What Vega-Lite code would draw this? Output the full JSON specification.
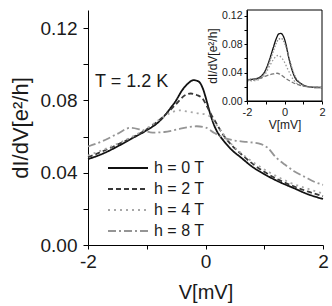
{
  "$schema": "https://vega.github.io/schema/vega-lite/v6.json",
  "autosize": "none",
  "width": 235,
  "height": 235,
  "padding": {"left": 88, "top": 10, "right": 9, "bottom": 61},
  "background": "white",
  "config": {
    "view": {"stroke": null},
    "font": "Liberation Sans",
    "axis": {"grid": false, "domainColor": "#000", "tickColor": "#000", "labelColor": "#1a1a1a", "titleColor": "#1a1a1a", "titleFontWeight": "normal", "labelFont": "Liberation Sans", "titleFont": "Liberation Sans"}
  },
  "datasets": {
    "main": [
      {"h": "h = 0 T", "V": -2.0, "G": 0.0475},
      {"h": "h = 0 T", "V": -1.75, "G": 0.0505},
      {"h": "h = 0 T", "V": -1.5, "G": 0.0545},
      {"h": "h = 0 T", "V": -1.25, "G": 0.059},
      {"h": "h = 0 T", "V": -1.0, "G": 0.0635},
      {"h": "h = 0 T", "V": -0.8, "G": 0.068},
      {"h": "h = 0 T", "V": -0.6, "G": 0.0755},
      {"h": "h = 0 T", "V": -0.5, "G": 0.0800},
      {"h": "h = 0 T", "V": -0.4, "G": 0.0855},
      {"h": "h = 0 T", "V": -0.3, "G": 0.0893},
      {"h": "h = 0 T", "V": -0.2, "G": 0.0912},
      {"h": "h = 0 T", "V": -0.12, "G": 0.0905},
      {"h": "h = 0 T", "V": -0.05, "G": 0.087},
      {"h": "h = 0 T", "V": 0.0, "G": 0.082},
      {"h": "h = 0 T", "V": 0.05, "G": 0.076},
      {"h": "h = 0 T", "V": 0.1, "G": 0.0705},
      {"h": "h = 0 T", "V": 0.15, "G": 0.066},
      {"h": "h = 0 T", "V": 0.22, "G": 0.0615},
      {"h": "h = 0 T", "V": 0.3, "G": 0.058},
      {"h": "h = 0 T", "V": 0.45, "G": 0.0525},
      {"h": "h = 0 T", "V": 0.6, "G": 0.0485},
      {"h": "h = 0 T", "V": 0.8, "G": 0.0432},
      {"h": "h = 0 T", "V": 1.0, "G": 0.0392},
      {"h": "h = 0 T", "V": 1.25, "G": 0.035},
      {"h": "h = 0 T", "V": 1.5, "G": 0.0315},
      {"h": "h = 0 T", "V": 1.75, "G": 0.028},
      {"h": "h = 0 T", "V": 2.0, "G": 0.0255},
      {"h": "h = 2 T", "V": -2.0, "G": 0.0485},
      {"h": "h = 2 T", "V": -1.5, "G": 0.0555},
      {"h": "h = 2 T", "V": -1.0, "G": 0.064},
      {"h": "h = 2 T", "V": -0.7, "G": 0.0715},
      {"h": "h = 2 T", "V": -0.5, "G": 0.078},
      {"h": "h = 2 T", "V": -0.35, "G": 0.0828},
      {"h": "h = 2 T", "V": -0.25, "G": 0.0838},
      {"h": "h = 2 T", "V": -0.15, "G": 0.083},
      {"h": "h = 2 T", "V": -0.05, "G": 0.081},
      {"h": "h = 2 T", "V": 0.02, "G": 0.077},
      {"h": "h = 2 T", "V": 0.1, "G": 0.072},
      {"h": "h = 2 T", "V": 0.19, "G": 0.067},
      {"h": "h = 2 T", "V": 0.3, "G": 0.061},
      {"h": "h = 2 T", "V": 0.45, "G": 0.055},
      {"h": "h = 2 T", "V": 0.6, "G": 0.0505},
      {"h": "h = 2 T", "V": 0.8, "G": 0.045},
      {"h": "h = 2 T", "V": 1.0, "G": 0.0405},
      {"h": "h = 2 T", "V": 1.25, "G": 0.036},
      {"h": "h = 2 T", "V": 1.5, "G": 0.0325},
      {"h": "h = 2 T", "V": 1.75, "G": 0.0295},
      {"h": "h = 2 T", "V": 2.0, "G": 0.027},
      {"h": "h = 4 T", "V": -2.0, "G": 0.0495},
      {"h": "h = 4 T", "V": -1.5, "G": 0.056},
      {"h": "h = 4 T", "V": -1.0, "G": 0.0645},
      {"h": "h = 4 T", "V": -0.8, "G": 0.069},
      {"h": "h = 4 T", "V": -0.6, "G": 0.073},
      {"h": "h = 4 T", "V": -0.45, "G": 0.0745},
      {"h": "h = 4 T", "V": -0.3, "G": 0.0738},
      {"h": "h = 4 T", "V": -0.15, "G": 0.073},
      {"h": "h = 4 T", "V": 0.0, "G": 0.0722},
      {"h": "h = 4 T", "V": 0.1, "G": 0.0705},
      {"h": "h = 4 T", "V": 0.2, "G": 0.066},
      {"h": "h = 4 T", "V": 0.3, "G": 0.0615},
      {"h": "h = 4 T", "V": 0.45, "G": 0.0555},
      {"h": "h = 4 T", "V": 0.6, "G": 0.051},
      {"h": "h = 4 T", "V": 0.87, "G": 0.0445},
      {"h": "h = 4 T", "V": 1.1, "G": 0.040},
      {"h": "h = 4 T", "V": 1.44, "G": 0.0345},
      {"h": "h = 4 T", "V": 1.75, "G": 0.031},
      {"h": "h = 4 T", "V": 2.0, "G": 0.0285},
      {"h": "h = 8 T", "V": -2.0, "G": 0.0545},
      {"h": "h = 8 T", "V": -1.75, "G": 0.0575},
      {"h": "h = 8 T", "V": -1.5, "G": 0.0615},
      {"h": "h = 8 T", "V": -1.28, "G": 0.0648},
      {"h": "h = 8 T", "V": -1.1, "G": 0.0638},
      {"h": "h = 8 T", "V": -0.9, "G": 0.0622},
      {"h": "h = 8 T", "V": -0.7, "G": 0.0625},
      {"h": "h = 8 T", "V": -0.5, "G": 0.0638},
      {"h": "h = 8 T", "V": -0.3, "G": 0.0652},
      {"h": "h = 8 T", "V": -0.15, "G": 0.0657},
      {"h": "h = 8 T", "V": 0.0, "G": 0.065},
      {"h": "h = 8 T", "V": 0.15, "G": 0.062},
      {"h": "h = 8 T", "V": 0.3, "G": 0.0595},
      {"h": "h = 8 T", "V": 0.5, "G": 0.0578},
      {"h": "h = 8 T", "V": 0.7, "G": 0.057},
      {"h": "h = 8 T", "V": 0.9, "G": 0.0562},
      {"h": "h = 8 T", "V": 1.05, "G": 0.054},
      {"h": "h = 8 T", "V": 1.2, "G": 0.0485},
      {"h": "h = 8 T", "V": 1.35, "G": 0.0445},
      {"h": "h = 8 T", "V": 1.5, "G": 0.041},
      {"h": "h = 8 T", "V": 1.7, "G": 0.0375},
      {"h": "h = 8 T", "V": 1.85, "G": 0.035},
      {"h": "h = 8 T", "V": 2.0, "G": 0.0333}
    ],
    "inset": [
      {"h": "h = 0 T", "V": -2.0, "G": 0.030},
      {"h": "h = 0 T", "V": -1.5, "G": 0.0315},
      {"h": "h = 0 T", "V": -1.2, "G": 0.036},
      {"h": "h = 0 T", "V": -1.0, "G": 0.044},
      {"h": "h = 0 T", "V": -0.8, "G": 0.058},
      {"h": "h = 0 T", "V": -0.6, "G": 0.075},
      {"h": "h = 0 T", "V": -0.45, "G": 0.087},
      {"h": "h = 0 T", "V": -0.3, "G": 0.0945},
      {"h": "h = 0 T", "V": -0.2, "G": 0.095},
      {"h": "h = 0 T", "V": -0.1, "G": 0.093},
      {"h": "h = 0 T", "V": 0.0, "G": 0.087},
      {"h": "h = 0 T", "V": 0.1, "G": 0.077},
      {"h": "h = 0 T", "V": 0.2, "G": 0.064},
      {"h": "h = 0 T", "V": 0.3, "G": 0.053},
      {"h": "h = 0 T", "V": 0.45, "G": 0.040},
      {"h": "h = 0 T", "V": 0.6, "G": 0.031},
      {"h": "h = 0 T", "V": 0.8, "G": 0.026},
      {"h": "h = 0 T", "V": 1.0, "G": 0.0225},
      {"h": "h = 0 T", "V": 1.3, "G": 0.020},
      {"h": "h = 0 T", "V": 1.6, "G": 0.019},
      {"h": "h = 0 T", "V": 2.0, "G": 0.019},
      {"h": "h = 2 T", "V": -2.0, "G": 0.029},
      {"h": "h = 2 T", "V": -1.5, "G": 0.030},
      {"h": "h = 2 T", "V": -1.2, "G": 0.035},
      {"h": "h = 2 T", "V": -1.0, "G": 0.042},
      {"h": "h = 2 T", "V": -0.8, "G": 0.055},
      {"h": "h = 2 T", "V": -0.6, "G": 0.070},
      {"h": "h = 2 T", "V": -0.45, "G": 0.081},
      {"h": "h = 2 T", "V": -0.3, "G": 0.087},
      {"h": "h = 2 T", "V": -0.2, "G": 0.088},
      {"h": "h = 2 T", "V": -0.1, "G": 0.087},
      {"h": "h = 2 T", "V": 0.0, "G": 0.082},
      {"h": "h = 2 T", "V": 0.1, "G": 0.075},
      {"h": "h = 2 T", "V": 0.2, "G": 0.065},
      {"h": "h = 2 T", "V": 0.3, "G": 0.055},
      {"h": "h = 2 T", "V": 0.45, "G": 0.042},
      {"h": "h = 2 T", "V": 0.6, "G": 0.033},
      {"h": "h = 2 T", "V": 0.8, "G": 0.026},
      {"h": "h = 2 T", "V": 1.0, "G": 0.022},
      {"h": "h = 2 T", "V": 1.3, "G": 0.020},
      {"h": "h = 2 T", "V": 2.0, "G": 0.019},
      {"h": "h = 4 T", "V": -2.0, "G": 0.028},
      {"h": "h = 4 T", "V": -1.5, "G": 0.029},
      {"h": "h = 4 T", "V": -1.2, "G": 0.033},
      {"h": "h = 4 T", "V": -1.0, "G": 0.039},
      {"h": "h = 4 T", "V": -0.8, "G": 0.049},
      {"h": "h = 4 T", "V": -0.6, "G": 0.058},
      {"h": "h = 4 T", "V": -0.45, "G": 0.063},
      {"h": "h = 4 T", "V": -0.35, "G": 0.064},
      {"h": "h = 4 T", "V": -0.2, "G": 0.062},
      {"h": "h = 4 T", "V": -0.05, "G": 0.057},
      {"h": "h = 4 T", "V": 0.1, "G": 0.049},
      {"h": "h = 4 T", "V": 0.3, "G": 0.038},
      {"h": "h = 4 T", "V": 0.5, "G": 0.029},
      {"h": "h = 4 T", "V": 0.7, "G": 0.024},
      {"h": "h = 4 T", "V": 1.0, "G": 0.021},
      {"h": "h = 4 T", "V": 1.4, "G": 0.020},
      {"h": "h = 4 T", "V": 2.0, "G": 0.019},
      {"h": "h = 8 T", "V": -2.0, "G": 0.030},
      {"h": "h = 8 T", "V": -1.5, "G": 0.031},
      {"h": "h = 8 T", "V": -1.2, "G": 0.033},
      {"h": "h = 8 T", "V": -0.9, "G": 0.036},
      {"h": "h = 8 T", "V": -0.6, "G": 0.038},
      {"h": "h = 8 T", "V": -0.4, "G": 0.039},
      {"h": "h = 8 T", "V": -0.2, "G": 0.037},
      {"h": "h = 8 T", "V": 0.0, "G": 0.033},
      {"h": "h = 8 T", "V": 0.3, "G": 0.028},
      {"h": "h = 8 T", "V": 0.6, "G": 0.024},
      {"h": "h = 8 T", "V": 1.0, "G": 0.021},
      {"h": "h = 8 T", "V": 1.4, "G": 0.020},
      {"h": "h = 8 T", "V": 2.0, "G": 0.019}
    ]
  },
  "layer": [
    {
      "data": {"name": "main"},
      "mark": {"type": "line", "strokeWidth": 1.8, "interpolate": "monotone"},
      "encoding": {
        "x": {"field": "V", "type": "quantitative", "scale": {"domain": [-2, 2], "nice": false, "zero": false},
          "axis": {"values": [-2, -1, 0, 1, 2], "labelExpr": "datum.value == -2 ? '-2' : datum.value == 0 ? '0' : datum.value == 2 ? '2' : ''", "labelFontSize": 19, "tickSize": 4, "labelPadding": 3, "labelFlush": false, "title": "V[mV]", "titleFontSize": 20, "titlePadding": 11}},
        "y": {"field": "G", "type": "quantitative", "scale": {"domain": [0, 0.13], "nice": false},
          "axis": {"values": [0, 0.02, 0.04, 0.06, 0.08, 0.1, 0.12], "format": ".2f", "labelExpr": "indexof(['0.00','0.04','0.08','0.12'], datum.label) >= 0 ? datum.label : ''", "labelFontSize": 19, "tickSize": 5, "labelPadding": 6, "title": "dI/dV[e²/h]", "titleFontSize": 22, "titlePadding": 8}},
        "color": {"field": "h", "type": "nominal", "title": null,
          "scale": {"domain": ["h = 0 T", "h = 2 T", "h = 4 T", "h = 8 T"], "range": ["#111111", "#383838", "#a8a8a8", "#959595"]},
          "legend": {"orient": "none", "legendX": 32, "legendY": 150, "symbolType": "M-4,0H4", "symbolSize": 100, "symbolStrokeWidth": 1.8, "labelFontSize": 16, "labelOffset": 18, "rowPadding": 5, "labelColor": "#1a1a1a", "labelFont": "Liberation Sans"}},
        "strokeDash": {"field": "h", "type": "nominal", "title": null,
          "scale": {"domain": ["h = 0 T", "h = 2 T", "h = 4 T", "h = 8 T"], "range": [[1, 0], [5, 3], [2, 4], [8, 3, 2, 3]]},
          "legend": {"orient": "none", "legendX": 32, "legendY": 150, "symbolType": "M-4,0H4", "symbolSize": 100, "symbolStrokeWidth": 1.8, "labelFontSize": 16, "labelOffset": 18, "rowPadding": 5, "labelColor": "#1a1a1a", "labelFont": "Liberation Sans"}}
      }
    },
    {
      "data": {"values": [{"label": "T = 1.2 K"}]},
      "mark": {"type": "text", "align": "left", "baseline": "alphabetic", "fontSize": 18, "font": "Liberation Sans", "color": "#1a1a1a"},
      "encoding": {
        "x": {"datum": -1.88, "type": "quantitative", "scale": {"domain": [-2, 2], "nice": false, "zero": false}, "axis": null},
        "y": {"datum": 0.0873, "type": "quantitative", "scale": {"domain": [0, 0.13], "nice": false}, "axis": null},
        "text": {"field": "label"}
      }
    },
    {
      "data": {"values": [{}]},
      "mark": {"type": "rect", "fill": "white", "stroke": "#000", "strokeWidth": 1},
      "encoding": {
        "x": {"datum": -2, "type": "quantitative", "scale": {"domain": [-2, 2], "range": [159, 234], "nice": false, "zero": false}, "axis": null},
        "x2": {"datum": 2},
        "y": {"datum": 0, "type": "quantitative", "scale": {"domain": [0, 0.128], "range": [91, 0], "nice": false}, "axis": null},
        "y2": {"datum": 0.128}
      }
    },
    {
      "data": {"name": "inset"},
      "mark": {"type": "line", "strokeWidth": 1.3, "interpolate": "monotone"},
      "encoding": {
        "x": {"field": "V", "type": "quantitative", "scale": {"domain": [-2, 2], "range": [159, 234], "nice": false, "zero": false},
          "axis": {"orient": "bottom", "offset": -144, "zindex": 1, "values": [-2, -1, 0, 1, 2], "labelExpr": "datum.value == -2 ? '-2' : datum.value == 0 ? '0' : datum.value == 2 ? '2' : ''", "labelFontSize": 11, "tickSize": 3, "labelPadding": 2, "labelFlush": false, "title": "V[mV]", "titleFontSize": 12, "titlePadding": 2}},
        "y": {"field": "G", "type": "quantitative", "scale": {"domain": [0, 0.128], "range": [91, 0], "nice": false},
          "axis": {"orient": "left", "offset": -159, "zindex": 1, "values": [0, 0.02, 0.04, 0.06, 0.08, 0.1, 0.12], "format": ".2f", "labelExpr": "indexof(['0.00','0.04','0.08','0.12'], datum.label) >= 0 ? datum.label : ''", "labelFontSize": 10.5, "tickSize": 3, "labelPadding": 2, "title": "dI/dV[e²/h]", "titleFontSize": 12, "titlePadding": 2}},
        "color": {"field": "h", "type": "nominal", "legend": null,
          "scale": {"domain": ["h = 0 T", "h = 2 T", "h = 4 T", "h = 8 T"], "range": ["#111111", "#777777", "#999999", "#777777"]}},
        "strokeDash": {"field": "h", "type": "nominal", "legend": null,
          "scale": {"domain": ["h = 0 T", "h = 2 T", "h = 4 T", "h = 8 T"], "range": [[1, 0], [1.5, 1.5], [1.5, 2], [4, 2]]}}
      }
    }
  ],
  "resolve": {
    "scale": {"x": "independent", "y": "independent", "color": "independent", "strokeDash": "independent"},
    "axis": {"x": "independent", "y": "independent"},
    "legend": {"color": "independent", "strokeDash": "independent"}
  }
}
